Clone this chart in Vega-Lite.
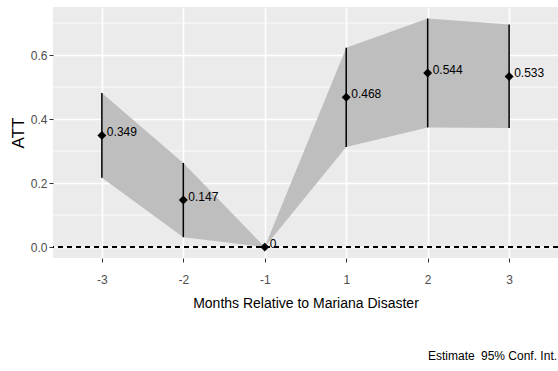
{
  "$schema": "https://vega.github.io/schema/vega-lite/v6.json",
  "width": 505,
  "height": 251,
  "autosize": {"type": "none"},
  "padding": {"left": 53, "top": 7, "right": 0, "bottom": 113},
  "background": "white",
  "config": {
    "view": {"fill": "#EBEBEB", "stroke": null},
    "font": "Liberation Sans"
  },
  "datasets": {
    "est": [
      {"month": "-3", "est": 0.349, "lo": 0.217, "hi": 0.481, "label": "0.349"},
      {"month": "-2", "est": 0.147, "lo": 0.031, "hi": 0.263, "label": "0.147"},
      {"month": "-1", "est": 0.0, "lo": 0.0, "hi": 0.0, "label": "0"},
      {"month": "1", "est": 0.468, "lo": 0.313, "hi": 0.623, "label": "0.468"},
      {"month": "2", "est": 0.544, "lo": 0.374, "hi": 0.714, "label": "0.544"},
      {"month": "3", "est": 0.533, "lo": 0.372, "hi": 0.695, "label": "0.533"}
    ],
    "minor": [{"v": 0.1}, {"v": 0.3}, {"v": 0.5}, {"v": 0.7}]
  },
  "layer": [
    {
      "data": {"name": "minor"},
      "mark": {"type": "rule", "stroke": "white", "strokeWidth": 0.8},
      "encoding": {
        "y": {
          "field": "v", "type": "quantitative", "title": "ATT",
          "scale": {"domain": [-0.034, 0.75], "nice": false, "zero": false},
          "axis": {
            "title": "ATT", "values": [0, 0.2, 0.4, 0.6], "format": ".1f",
            "grid": true, "gridColor": "white", "gridWidth": 1.6,
            "domain": false, "tickColor": "#333333", "tickSize": 4, "labelPadding": 2,
            "labelFontSize": 12, "labelColor": "#4D4D4D",
            "titleFont": "Liberation Sans", "titleFontSize": 17, "titleFontWeight": "normal",
            "titleColor": "black", "titlePadding": 3
          }
        }
      }
    },
    {
      "data": {"name": "est"},
      "layer": [
        {
          "mark": {"type": "area", "opacity": 1},
          "encoding": {
            "x": {
              "field": "month", "type": "ordinal", "sort": ["-3", "-2", "-1", "1", "2", "3"],
              "scale": {"type": "point", "padding": 0.6},
              "axis": {
                "title": "Months Relative to Mariana Disaster", "labelAngle": 0, "domain": false,
                "grid": true, "gridColor": "white", "gridWidth": 1.6,
                "tickColor": "#333333", "tickSize": 4, "labelPadding": 12,
                "labelFontSize": 12, "labelColor": "#4D4D4D",
                "titleFontSize": 14, "titleFontWeight": "normal", "titleColor": "black", "titlePadding": 11
              }
            },
            "y": {"field": "lo", "type": "quantitative", "title": "ATT"},
            "y2": {"field": "hi"},
            "color": {"datum": "95% Conf. Int."}
          }
        },
        {
          "mark": {"type": "rule", "color": "black", "strokeDash": [5, 4], "strokeWidth": 1.5},
          "encoding": {"y": {"datum": 0, "type": "quantitative", "title": "ATT"}}
        },
        {
          "mark": {"type": "rule", "color": "black", "strokeWidth": 1.5},
          "encoding": {
            "x": {"field": "month", "type": "ordinal", "sort": ["-3", "-2", "-1", "1", "2", "3"], "title": "Months Relative to Mariana Disaster"},
            "y": {"field": "lo", "type": "quantitative", "title": "ATT"},
            "y2": {"field": "hi"}
          }
        },
        {
          "mark": {"type": "point", "shape": "diamond", "size": 80, "filled": true, "opacity": 1},
          "encoding": {
            "x": {"field": "month", "type": "ordinal", "sort": ["-3", "-2", "-1", "1", "2", "3"], "title": "Months Relative to Mariana Disaster"},
            "y": {"field": "est", "type": "quantitative", "title": "ATT"},
            "color": {
              "datum": "Estimate",
              "scale": {"domain": ["Estimate", "95% Conf. Int."], "range": ["black", "#BEBEBE"]},
              "legend": {
                "title": null, "orient": "none", "legendX": 373, "legendY": 343,
                "direction": "horizontal", "symbolOpacity": 0, "symbolSize": 0,
                "symbolStrokeWidth": 0, "symbolFillColor": "transparent", "symbolStrokeColor": "transparent",
                "labelOffset": -10, "columnPadding": 4,
                "labelFontSize": 12, "labelColor": "black", "labelFont": "Liberation Sans"
              }
            }
          }
        },
        {
          "mark": {"type": "text", "align": "left", "baseline": "middle", "dx": 5, "dy": -3, "fontSize": 12, "color": "black"},
          "encoding": {
            "x": {"field": "month", "type": "ordinal", "sort": ["-3", "-2", "-1", "1", "2", "3"], "title": "Months Relative to Mariana Disaster"},
            "y": {"field": "est", "type": "quantitative", "title": "ATT"},
            "text": {"field": "label"}
          }
        }
      ]
    }
  ]
}
